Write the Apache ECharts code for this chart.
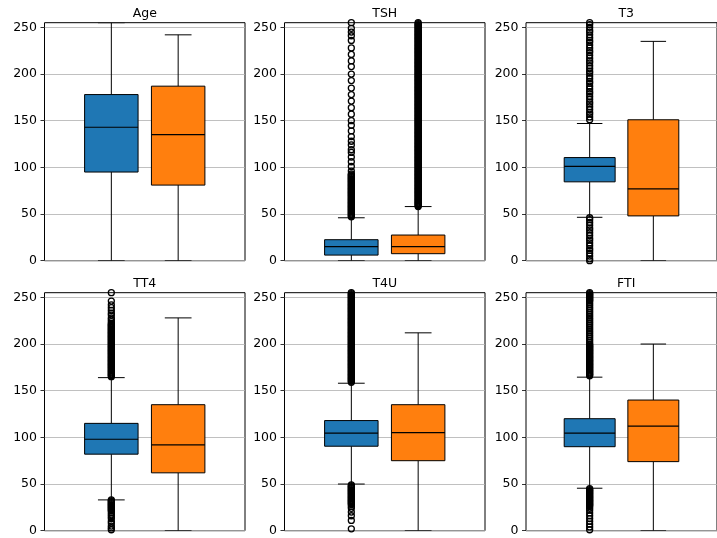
<!DOCTYPE html>
<html>
<head>
<meta charset="utf-8">
<script src="https://cdn.jsdelivr.net/npm/echarts@6/dist/echarts.min.js"></script>
<style>
  html, body { margin: 0; padding: 0; background: #fff; }
  #chart { width: 717px; height: 538px; }
</style>
</head>
<body>
<div id="chart"></div>
<script>
// Panel titles (row-major, 2 rows x 3 columns)
const titles = ['Age', 'TSH', 'T3', 'TT4', 'T4U', 'FTI'];

// Box statistics per panel: [lower whisker, Q1, median, Q3, upper whisker]
const blueBoxes = [
  [0, 95, 143, 178, 255],
  [0, 6, 15, 22.5, 46],
  [46.5, 84.5, 101, 110.5, 147],
  [33, 82, 98, 115, 164],
  [50, 90.5, 104.5, 118, 158],
  [45.5, 90, 104.5, 120, 164.5]
];
const orangeBoxes = [
  [0, 81, 135, 187, 242],
  [0, 7.5, 15, 27.5, 58],
  [0, 48, 77, 151, 235],
  [0, 62, 92, 135, 228],
  [0, 75, 105, 135, 212],
  [0, 74, 112, 140, 200]
];

// Outlier values per panel
const blueOutliers = [
  [],
  [47,48,49,50,51,52,53,54,55,56,57,58,59,60,61,62,63,64,65,66,67,68,69,70,71,72,73,74,75,76,77,78,79,80,81,82,83,84,85,86,87,88,89,90,91,92,93,
   96,101,106,111,116,119,124,128,133,139,145,150,157,164,171,178,185,193,200,208,214,221,228,236,241,245,249,255],
  [0,2,5,8,11,13,16,19,22,24,27,30,33,35,38,41,44,46,
   151,154,157,159,162,165,168,170,173,176,179,181,184,187,190,192,195,198,201,203,206,209,212,214,217,220,223,225,228,231,234,236,239,242,245,247,250,253,255],
  [1,3,5,8,10,13,15,17,19,21,22,23,24,25,26,27,28,29,30,31,32,33,
   165,166,167,168,169,170,171,172,173,174,175,176,177,178,179,180,181,182,183,184,185,186,187,188,189,190,191,192,193,194,195,196,197,198,199,200,
   201,202,203,204,205,206,207,208,209,210,211,212,213,214,215,216,217,218,219,220,221,222,224,226,228,231,233,236,239,242,246,255],
  [2,11,16,20,24,26,28,29,30,31,32,33,34,35,36,37,38,39,40,41,42,43,44,45,46,47,48,49,
   159,160,161,162,163,164,165,166,167,168,169,170,171,172,173,174,175,176,177,178,179,180,181,182,183,184,185,186,187,188,189,190,
   191,192,193,194,195,196,197,198,199,200,201,202,203,204,205,206,207,208,209,210,211,212,213,214,215,216,217,218,219,220,221,222,
   223,224,225,226,227,228,229,230,231,232,233,234,235,236,237,238,239,240,241,242,243,244,245,246,247,248,249,250,251,252,253,254,255],
  [1,4,7,10,13,16,19,22,24,26,27,28,29,30,31,32,33,34,35,36,37,38,39,40,41,42,43,44,45,
   166,167,168,169,170,171,172,173,174,175,176,177,178,179,180,181,182,183,184,185,186,187,188,189,190,191,192,193,194,195,196,197,198,199,200,
   202,204,206,208,210,212,214,216,218,220,222,224,226,228,230,232,234,236,238,240,242,244,246,247,248,249,250,251,252,253,254,255]
];
const orangeOutliers = [
  [],
  [58,59,60,61,62,63,64,65,66,67,68,69,70,71,72,73,74,75,76,77,78,79,80,81,82,83,84,85,86,87,88,89,90,91,92,93,94,95,96,97,98,99,
   100,101,102,103,104,105,106,107,108,109,110,111,112,113,114,115,116,117,118,119,120,121,122,123,124,125,126,127,128,129,130,
   131,132,133,134,135,136,137,138,139,140,141,142,143,144,145,146,147,148,149,150,151,152,153,154,155,156,157,158,159,160,
   161,162,163,164,165,166,167,168,169,170,171,172,173,174,175,176,177,178,179,180,181,182,183,184,185,186,187,188,189,190,
   191,192,193,194,195,196,197,198,199,200,201,202,203,204,205,206,207,208,209,210,211,212,213,214,215,216,217,218,219,220,
   221,222,223,224,225,226,227,228,229,230,231,232,233,234,235,236,237,238,239,240,241,242,243,244,245,246,247,248,249,250,
   251,252,253,254,255],
  [], [], [], []
];

// Value-axis ticks
const yTicks = [0, 50, 100, 150, 200, 250];

const colors = ['#1f77b4', '#ff7f0e'];
const panelLefts = [44.5, 284.5, 526];
const panelTops = [22.7, 292.7];
const panelW = 200.5, panelH = 238;
const FONT = 'DejaVu Sans';

function renderBox(params, api) {
  const x = api.value(0);
  const lo = api.value(1), q1 = api.value(2), md = api.value(3), q3 = api.value(4), hi = api.value(5);
  const half = 0.4, capHalf = 0.2;
  const pLo = api.coord([x, lo]), pQ1 = api.coord([x, q1]);
  const pMd = api.coord([x, md]), pQ3 = api.coord([x, q3]), pHi = api.coord([x, hi]);
  const xL = api.coord([x - half, 0])[0], xR = api.coord([x + half, 0])[0];
  const cL = api.coord([x - capHalf, 0])[0], cR = api.coord([x + capHalf, 0])[0];
  const cx = pLo[0];
  const stroke = { stroke: '#000', lineWidth: 1 };
  return {
    type: 'group',
    children: [
      { type: 'line', shape: { x1: cx, y1: pLo[1], x2: cx, y2: pQ1[1] }, style: stroke },
      { type: 'line', shape: { x1: cx, y1: pQ3[1], x2: cx, y2: pHi[1] }, style: stroke },
      { type: 'line', shape: { x1: cL, y1: pLo[1], x2: cR, y2: pLo[1] }, style: stroke },
      { type: 'line', shape: { x1: cL, y1: pHi[1], x2: cR, y2: pHi[1] }, style: stroke },
      { type: 'rect', shape: { x: xL, y: pQ3[1], width: xR - xL, height: pQ1[1] - pQ3[1] },
        style: { fill: api.visual('color'), stroke: '#000', lineWidth: 1 } },
      { type: 'line', shape: { x1: xL, y1: pMd[1], x2: xR, y2: pMd[1] }, style: { stroke: '#000', lineWidth: 1.2 } }
    ]
  };
}

const grids = [], xAxes = [], yAxes = [], series = [], titleList = [];
titles.forEach((name, i) => {
  const left = panelLefts[i % 3], top = panelTops[Math.floor(i / 3)];
  grids.push({ left: left, top: top, width: panelW, height: panelH, show: true,
    borderColor: '#000', borderWidth: 1, backgroundColor: 'transparent', containLabel: false });
  titleList.push({ text: name, left: left + panelW / 2, top: top - 15.5, textAlign: 'center', padding: 0,
    textStyle: { fontFamily: FONT, fontSize: 12.5, fontWeight: 'normal', color: '#000' } });
  xAxes.push({ type: 'value', gridIndex: i, min: 0, max: 3,
    axisLine: { show: false }, axisTick: { show: false }, axisLabel: { show: false }, splitLine: { show: false } });
  yAxes.push({ type: 'value', gridIndex: i, min: 0, max: 255,
    axisLine: { show: false },
    axisTick: { show: true, length: 4, lineStyle: { color: '#000', width: 0.8 }, customValues: yTicks },
    axisLabel: { customValues: yTicks, fontFamily: FONT, fontSize: 12.5, color: '#000', margin: 7.5 },
    splitLine: { show: true, lineStyle: { color: '#b0b0b0', width: 0.8 } } });
  [blueBoxes[i], orangeBoxes[i]].forEach((b, k) => {
    series.push({ type: 'custom', xAxisIndex: i, yAxisIndex: i, renderItem: renderBox, clip: true,
      itemStyle: { color: colors[k] }, encode: { x: 0, y: [1, 2, 3, 4, 5] },
      data: [[k + 1].concat(b)], silent: true, z: 3 });
  });
  [blueOutliers[i], orangeOutliers[i]].forEach((arr, k) => {
    if (!arr.length) return;
    series.push({ type: 'scatter', xAxisIndex: i, yAxisIndex: i, symbol: 'circle', symbolSize: 6,
      itemStyle: { color: 'rgba(0,0,0,0)', borderColor: '#000', borderWidth: 1.3, opacity: 1 },
      data: arr.map(v => [k + 1, v]), silent: true, z: 4, animation: false });
  });
});

const chart = echarts.init(document.getElementById('chart'), null, { renderer: 'canvas' });
chart.setOption({
  animation: false,
  backgroundColor: '#fff',
  title: titleList,
  grid: grids,
  xAxis: xAxes,
  yAxis: yAxes,
  series: series
});
</script>
</body>
</html>
